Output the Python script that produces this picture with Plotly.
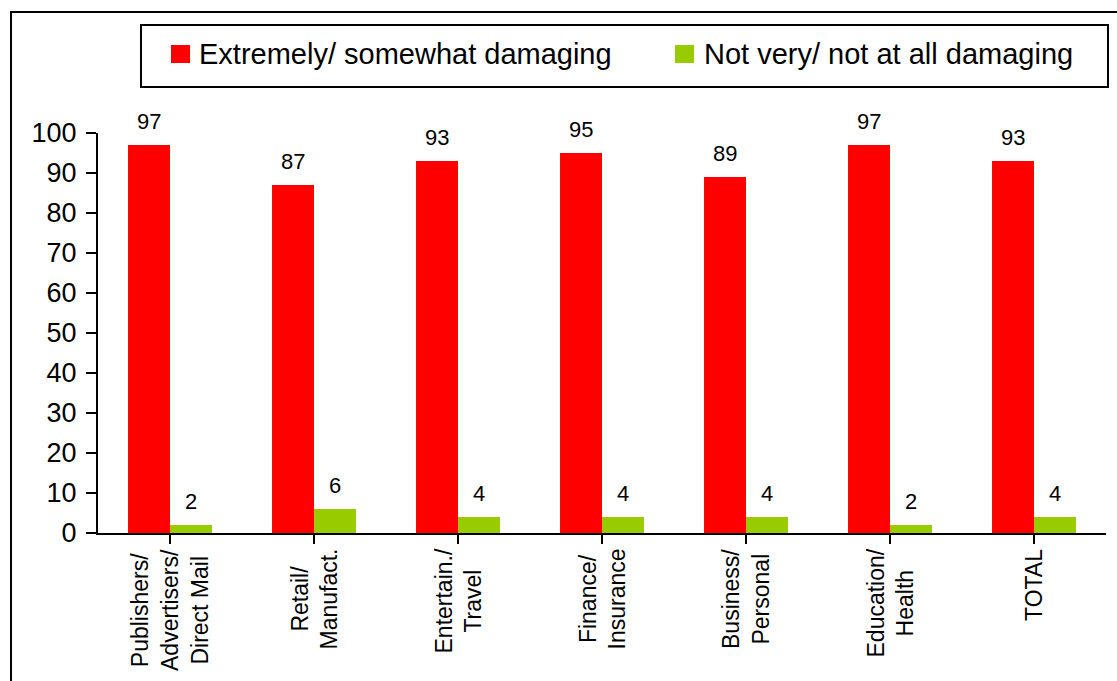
import plotly.graph_objects as go

# Survey results by industry segment (percent of respondents)
categories = [
    "Publishers/<br>Advertisers/<br>Direct Mail",
    "Retail/<br>Manufact.",
    "Entertain./<br>Travel",
    "Finance/<br>Insurance",
    "Business/<br>Personal",
    "Education/<br>Health",
    "TOTAL",
]
damaging = [97, 87, 93, 95, 89, 97, 93]
not_damaging = [2, 6, 4, 4, 4, 2, 4]

series_names = ["Extremely/ somewhat damaging", "Not very/ not at all damaging"]
RED = "#FF0000"
GREEN = "#99CC00"
FONT = "Arial, Liberation Sans, sans-serif"

W, H = 1117, 681
L, R, T, B = 98, 11, 133, 148
PW, PH = W - L - R, H - T - B


def px_x(px):
    return (px - L) / PW


def px_y(py):
    return (H - B - py) / PH


idx = list(range(len(categories)))

fig = go.Figure()
fig.add_trace(go.Bar(x=idx, y=damaging, name=series_names[0],
                     marker=dict(color=RED, line=dict(width=0))))
fig.add_trace(go.Bar(x=idx, y=not_damaging, name=series_names[1],
                     marker=dict(color=GREEN, line=dict(width=0))))

annotations = []
# value labels above each bar
for i in idx:
    for vals, shift in ((damaging, -21), (not_damaging, 21)):
        annotations.append(dict(
            x=i, y=vals[i], xref="x", yref="y", text=str(vals[i]),
            showarrow=False, xshift=shift, yshift=9, yanchor="bottom",
            font=dict(family=FONT, size=22, color="black")))
# rotated category labels below the axis
for i, c in enumerate(categories):
    annotations.append(dict(
        x=i, y=px_y(547), xref="x", yref="paper", text=c, textangle=-90,
        showarrow=False, xanchor="center", yanchor="top", align="center",
        font=dict(family=FONT, size=23, color="black")))

# legend drawn as a framed box across the top
shapes = [
    dict(type="rect", xref="paper", yref="paper",
         x0=px_x(11), x1=px_x(1140), y0=px_y(12), y1=px_y(720),
         line=dict(color="black", width=2), fillcolor="rgba(0,0,0,0)"),
    dict(type="rect", xref="paper", yref="paper",
         x0=px_x(141), x1=px_x(1108), y0=px_y(25), y1=px_y(87),
         line=dict(color="black", width=2), fillcolor="white"),
]
for (sx, tx), name, col in zip(((171, 197), (675, 702)), series_names, (RED, GREEN)):
    shapes.append(dict(type="rect", xref="paper", yref="paper",
                       x0=px_x(sx), x1=px_x(sx + 19), y0=px_y(45), y1=px_y(63),
                       line=dict(width=0), fillcolor=col))
    annotations.append(dict(
        x=px_x(tx), y=px_y(54), xref="paper", yref="paper", text=name,
        showarrow=False, xanchor="left", yanchor="middle",
        font=dict(family=FONT, size=29, color="black")))

fig.update_layout(
    width=W, height=H,
    margin=dict(l=L, r=R, t=T, b=B, pad=0),
    paper_bgcolor="white", plot_bgcolor="white",
    barmode="group", bargap=0.417, bargroupgap=0,
    showlegend=False,
    font=dict(family=FONT, color="black"),
    shapes=shapes, annotations=annotations,
    xaxis=dict(range=[-0.5, len(categories) - 0.5], tickmode="array",
               tickvals=idx, showticklabels=False, tickson="boundaries",
               ticks="outside", ticklen=9, tickwidth=2, tickcolor="black",
               showline=True, linecolor="black", linewidth=2,
               showgrid=False, zeroline=False),
    yaxis=dict(range=[0, 100], dtick=10, ticks="outside", ticklen=10,
               tickwidth=2, tickcolor="black", showline=True,
               linecolor="black", linewidth=2, showgrid=False,
               zeroline=False, ticklabelstandoff=4,
               tickfont=dict(family=FONT, size=27, color="black")),
)

fig.write_html("out.html")
